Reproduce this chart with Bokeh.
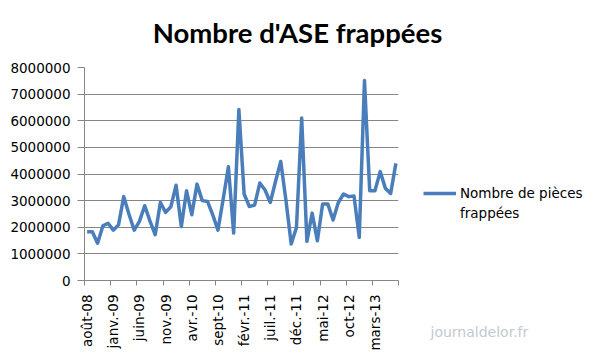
from bokeh.plotting import figure
from bokeh.layouts import column, row
from bokeh.models import (FixedTicker, NumeralTickFormatter, Range1d, Legend, LegendItem, Label)
from bokeh.embed import file_html
from bokeh.resources import INLINE
from math import pi

# --- data -----------------------------------------------------------------
month_names = ["janv.", "févr.", "mars", "avr.", "mai", "juin",
               "juil.", "août", "sept", "oct", "nov.", "déc."]
start_month, start_year = 8, 2008  # août-08
n_months = 60
months = []
for k in range(n_months):
    m = (start_month - 1 + k) % 12
    y = start_year + (start_month - 1 + k) // 12
    months.append(f"{month_names[m]}-{y % 100:02d}")

pieces = [1830000, 1830000, 1400000, 2050000, 2150000, 1890000, 2090000, 3150000,
          2490000, 1890000, 2220000, 2810000, 2240000, 1720000, 2930000, 2560000,
          2770000, 3580000, 2030000, 3370000, 2470000, 3620000, 3000000, 2970000,
          2470000, 1890000, 3060000, 4270000, 1780000, 6420000, 3250000, 2780000,
          2830000, 3660000, 3400000, 2930000, 3720000, 4470000, 3000000, 1370000,
          1990000, 6100000, 1470000, 2530000, 1490000, 2870000, 2870000, 2270000,
          2930000, 3250000, 3150000, 3170000, 1620000, 7510000, 3370000, 3370000,
          4090000, 3460000, 3270000, 4400000]

label_step = 5
y_ticks = [0, 1000000, 2000000, 3000000, 4000000, 5000000, 6000000, 7000000, 8000000]
series_name = "Nombre de pièces"
series_name_2 = "frappées"
title_text = "Nombre d'ASE frappées"
watermark = "journaldelor.fr"

# --- layout geometry --------------------------------------------------------
W, H = 596, 356
TOP_H = 54                 # title strip
MAIN_W = 400               # chart part (frame from x=84 to 398)
RIGHT_W = W - MAIN_W       # legend strip
BODY_H = H - TOP_H

grey = "#868686"
tick_font = "DejaVu Sans"
line_color = "#4A7EBB"


def blank_figure(w, h):
    f = figure(width=w, height=h, output_backend="svg", toolbar_location=None,
               title_location=None, x_range=Range1d(1000, 1001), y_range=Range1d(0, 1),
               x_axis_location=None, y_axis_location=None,
               min_border=0, outline_line_color=None,
               background_fill_color="white", border_fill_color="white")
    f.grid.visible = False
    if "frame_align" in f.properties():
        f.frame_align = False
    return f


# --- title strip ------------------------------------------------------------
top = blank_figure(W, TOP_H)
top.add_layout(Label(x=297, y=22, x_units="screen", y_units="screen",
                     text=title_text, text_font="Lato", text_font_style="bold",
                     text_font_size="27.5px", text_align="center",
                     text_baseline="alphabetic", text_color="black"))

# --- main chart ---------------------------------------------------------------
p = figure(width=MAIN_W, height=BODY_H, output_backend="svg", toolbar_location=None,
           x_range=Range1d(0, n_months), y_range=Range1d(0, 8000000),
           min_border_left=84, min_border_right=MAIN_W - 398,
           min_border_top=67 - TOP_H, min_border_bottom=76,
           background_fill_color="white", border_fill_color="white",
           outline_line_color=None)
if "frame_align" in p.properties():
    p.frame_align = False

xs = [i + 0.5 for i in range(n_months)]
r = p.line(xs, pieces, line_color=line_color, line_width=3.5, line_join="round")

label_pos = [i + 0.5 for i in range(0, n_months, label_step)]
p.xaxis.ticker = FixedTicker(ticks=label_pos,
                             minor_ticks=list(range(0, n_months + 1, label_step)))
p.xaxis.major_label_overrides = {pos: months[int(pos)] for pos in label_pos}
p.xaxis.major_label_orientation = pi / 2
p.xaxis.major_tick_out = 0
p.xaxis.major_tick_in = 0
p.xaxis.minor_tick_out = 5
p.xaxis.minor_tick_in = 0
p.xaxis.minor_tick_line_color = grey
p.xaxis.axis_line_color = grey
p.xaxis.major_label_standoff = 9
p.xaxis.major_label_text_font = tick_font
p.xaxis.major_label_text_font_size = "13.5px"
p.xaxis.major_label_text_color = "black"

p.yaxis.ticker = FixedTicker(ticks=y_ticks, minor_ticks=[])
p.yaxis.formatter = NumeralTickFormatter(format="0")
p.yaxis.major_tick_out = 7
p.yaxis.major_tick_in = 0
p.yaxis.major_tick_line_color = grey
p.yaxis.axis_line_color = grey
p.yaxis.major_label_standoff = 7
p.yaxis.major_label_text_font = tick_font
p.yaxis.major_label_text_font_size = "13.5px"
p.yaxis.major_label_text_color = "black"

p.xgrid.grid_line_color = None
p.ygrid.grid_line_color = grey
p.ygrid.grid_line_width = 1

# --- legend strip ---------------------------------------------------------------
side = blank_figure(RIGHT_W, BODY_H)
r_leg = side.line(xs, pieces, line_color=line_color, line_width=3.5)
r_ghost = side.line(xs, pieces, line_alpha=0)

# legend: first item centred at y=193 of the whole picture
leg_left = 423 - MAIN_W
leg_bottom = BODY_H - (193 - TOP_H + 30)
legend = Legend(items=[LegendItem(label=series_name, renderers=[r_leg]),
                       LegendItem(label=series_name_2, renderers=[r_ghost])],
                location=(leg_left, leg_bottom), glyph_width=33, glyph_height=20,
                label_height=20, label_standoff=4, padding=0, margin=0, spacing=0,
                border_line_color=None, background_fill_alpha=0,
                label_text_font=tick_font, label_text_font_size="13.5px",
                label_text_color="black")
side.add_layout(legend)

side.add_layout(Label(x=430 - MAIN_W, y=BODY_H - (331 - TOP_H), x_units="screen",
                      y_units="screen", text=watermark, text_font=tick_font,
                      text_font_size="14px", text_align="left",
                      text_baseline="middle", text_color="#c3c9d1"))

layout = column(top, row(p, side, spacing=0), spacing=0)
open("out.html", "w").write(file_html(layout, INLINE))
